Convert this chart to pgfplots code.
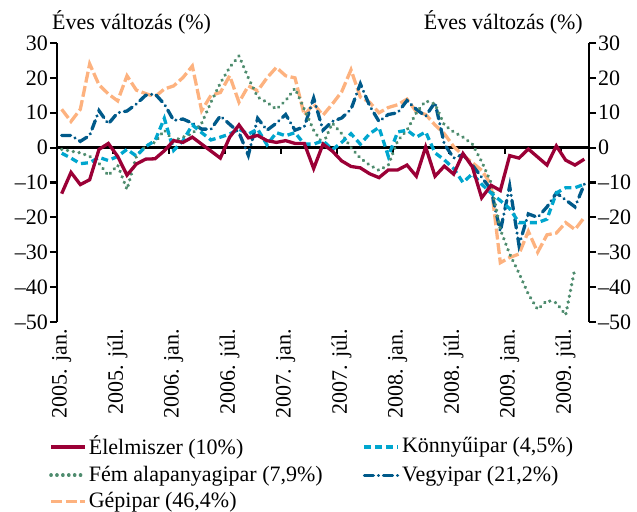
\documentclass[border=0pt]{standalone}
\usepackage{fontspec}
\setmainfont{Liberation Serif}
\usepackage{pgfplots}
\usepackage{pgfplotstable}
\pgfplotsset{compat=1.18}
\definecolor{cEle}{HTML}{9B0036}
\definecolor{cFem}{HTML}{4E8C6E}
\definecolor{cGep}{HTML}{FDB27F}
\definecolor{cKon}{HTML}{00A6CE}
\definecolor{cVeg}{HTML}{005A8A}
\pgfplotstableread{
i ele kon fem veg gep
0 -13.2 -1.6 -0.5 3.5 11.0
1 -7.1 -3.0 -1.0 3.5 7.5
2 -10.6 -4.6 -1.5 1.8 11.0
3 -9.2 -4.3 -2.5 3.5 24.0
4 -0.5 -2.8 -4.5 10.6 18.0
5 1.2 -3.7 -8.0 6.8 15.4
6 -2.5 -2.5 -5.0 10.0 13.4
7 -7.9 -0.5 -12.0 10.5 20.6
8 -4.7 -2.4 -2.5 12.5 16.5
9 -3.3 0.3 0.5 15.0 15.5
10 -3.2 2.0 1.5 15.4 14.6
11 -0.9 8.4 5.0 12.5 16.8
12 2.0 -0.8 2.0 7.8 17.7
13 1.5 2.0 3.0 8.2 20.1
14 3.0 6.5 4.0 7.0 23.4
15 1.0 4.3 7.0 5.3 10.6
16 -1.0 2.2 13.0 5.3 15.0
17 -3.0 3.0 18.5 9.1 15.8
18 3.0 3.9 23.0 6.7 20.6
19 6.5 5.3 26.3 4.3 13.0
20 2.8 3.9 20.0 -2.2 17.7
21 3.5 5.3 14.5 8.4 16.3
22 2.0 0.8 13.0 5.0 20.0
23 1.5 4.3 11.0 7.0 23.0
24 2.0 3.4 13.5 9.5 20.6
25 1.2 4.3 17.0 5.0 20.0
26 1.2 1.0 11.0 6.0 9.3
27 -6.0 1.0 5.0 14.2 12.5
28 1.0 2.0 1.0 5.0 9.3
29 -1.0 -0.6 7.0 7.5 12.5
30 -3.8 1.5 4.0 8.5 16.0
31 -5.4 4.0 0.0 11.0 22.3
32 -5.8 1.0 -3.0 18.3 14.5
33 -7.5 4.0 -5.0 12.0 13.0
34 -8.6 5.8 -6.5 7.5 10.0
35 -6.4 -2.5 -5.0 9.5 11.5
36 -6.4 4.5 2.0 10.0 12.3
37 -5.0 5.0 5.0 13.5 13.9
38 -8.2 3.0 10.0 11.0 10.3
39 0.2 4.5 13.4 9.0 9.5
40 -8.2 -1.5 12.5 13.0 6.5
41 -5.3 -3.5 6.5 1.0 4.0
42 -7.6 -6.0 4.5 -3.0 0.3
43 -1.7 -10.0 3.0 -2.0 -2.2
44 -5.5 -7.5 1.0 -5.0 -4.3
45 -14.4 -10.5 -4.0 -8.5 -6.5
46 -10.8 -13.0 -10.0 -12.0 -10.5
47 -12.3 -15.2 -23.5 -24.0 -33.0
48 -2.3 -17.5 -30.5 -11.0 -31.5
49 -3.0 -21.5 -36.0 -28.0 -30.5
50 -0.4 -21.5 -42.0 -19.0 -24.0
51 -2.7 -21.5 -46.4 -20.0 -30.0
52 -5.0 -20.5 -43.8 -17.0 -25.0
53 0.5 -13.0 -44.5 -13.0 -24.5
54 -3.6 -11.5 -48.0 -15.0 -21.5
55 -5.0 -11.5 -34.5 -17.0 -23.5
56 -3.3 -10.5 nan -10.5 -20.0
}\data
\tikzset{
  sEle/.style={cEle, line width=3.3bp, solid},
  sFem/.style={cFem, line width=3.6bp, line cap=round, dash pattern=on 0.1bp off 5.8bp},
  sGep/.style={cGep, line width=3.3bp, dash pattern=on 11bp off 3.5bp},
  sKon/.style={cKon, line width=3.3bp, dash pattern=on 7bp off 4bp},
  sVeg/.style={cVeg, line width=3.3bp, line cap=round, dash pattern=on 9bp off 5bp on 0.1bp off 5bp},
}
\begin{document}
\fontsize{22bp}{26bp}\selectfont
\begin{tikzpicture}
\useasboundingbox (-57bp,-190bp) rectangle (580bp,322bp);
\begin{axis}[
  at={(0,0)}, anchor=south west,
  scale only axis, width=532bp, height=279bp,
  xmin=-0.5, xmax=56.5, ymin=-50, ymax=30,
  clip=false,
  axis y line*=left, axis x line*=bottom,
  x axis line style={draw=none},
  y axis line style={line width=2.6bp, -},
  xtick={0,6,...,54},
  xticklabels={2005. jan.,2005. júl.,2006. jan.,2006. júl.,2007. jan.,2007. júl.,2008. jan.,2008. júl.,2009. jan.,2009. júl.},
  xtick style={draw=none},
  xticklabel style={rotate=90, anchor=east, inner sep=0pt},
  ytick={-50,-40,...,30},
  yticklabels={--50,--40,--30,--20,--10,0,10,20,30},
  ytick style={line width=2.2bp, black},
  yticklabel style={inner sep=2bp},
  tick align=outside, major tick length=7bp,
  legend columns=2,
  legend cell align=left,
  legend style={draw=none, fill=none, at={(-0.015,-0.40)}, anchor=north west,
    inner sep=0pt, row sep=4bp,
    /tikz/every even column/.append style={column sep=38bp}},
  legend image code/.code={\draw[#1] (0bp,0bp) -- (34bp,0bp);},
]
\draw[line width=2.6bp] (axis cs:-0.5,0) -- (axis cs:56.5,0);
\pgfplotsinvokeforeach{5.5,11.5,17.5,23.5,29.5,35.5,41.5,47.5,53.5}{
  \draw[line width=2.2bp] (axis cs:#1,0) -- ([yshift=-6.5bp]axis cs:#1,0);
}
\addplot[sGep, forget plot] table[x=i, y=gep] {\data};
\addplot[sVeg, forget plot] table[x=i, y=veg] {\data};
\addplot[sFem, forget plot] table[x=i, y=fem] {\data};
\addplot[sKon, forget plot] table[x=i, y=kon] {\data};
\addplot[sEle, forget plot] table[x=i, y=ele] {\data};
\addlegendimage{sEle}
\addlegendentry{Élelmiszer (10\%)}
\addlegendimage{sKon}
\addlegendentry{Könnyűipar (4,5\%)}
\addlegendimage{sFem}
\addlegendentry{Fém alapanyagipar (7,9\%)}
\addlegendimage{sVeg}
\addlegendentry{Vegyipar (21,2\%)}
\addlegendimage{sGep}
\addlegendentry{Gépipar (46,4\%)}
\node[anchor=south west, inner sep=0pt, xshift=-5bp, yshift=9bp] at (rel axis cs:0,1) {Éves változás (\%)};
\node[anchor=south east, inner sep=0pt, xshift=-6bp, yshift=9bp] at (rel axis cs:1,1) {Éves változás (\%)};
\end{axis}
\begin{axis}[
  at={(0,0)}, anchor=south west,
  scale only axis, width=532bp, height=279bp,
  xmin=-0.5, xmax=56.5, ymin=-50, ymax=30,
  axis y line*=right, axis x line=none, xtick=\empty,
  y axis line style={line width=2.6bp, -},
  ytick={-50,-40,...,30},
  yticklabels={--50,--40,--30,--20,--10,0,10,20,30},
  ytick style={line width=2.2bp, black},
  yticklabel style={inner sep=2bp},
  tick align=outside, major tick length=7bp,
]
\end{axis}
\end{tikzpicture}
\end{document}
